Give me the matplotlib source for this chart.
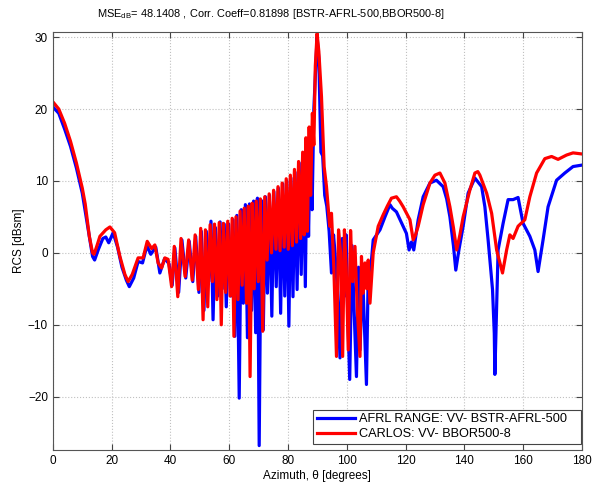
import numpy as np
import matplotlib.pyplot as plt

plt.rcParams["font.family"] = ["Liberation Sans", "DejaVu Sans"]
plt.rcParams["mathtext.fontset"] = "custom"
plt.rcParams["mathtext.rm"] = "Liberation Sans"
plt.rcParams["mathtext.it"] = "Liberation Sans:italic"

# AFRL range measurement (blue)
afrl_az = [0, 2, 4, 6, 8, 10, 12, 13.5, 14.2, 15.5, 17, 18, 19, 20.5, 22, 23.5, 25, 26,
           27.5, 29, 30.5, 32, 33.3, 35, 36.4, 38, 39.5,
           40.6, 41.5, 42.8, 43.9, 45.2, 46.4, 47.6, 48.6, 49.7, 50.5, 51.4, 52.2, 53.0,
           53.8, 54.5, 55.3, 56.1, 56.9, 57.6, 58.3, 59.0, 59.8, 60.6, 61.3, 61.9, 62.6,
           63.4, 64.1, 64.8, 65.5, 66.2, 66.9, 67.6, 68.3, 69.0, 69.6, 70.2, 70.9, 71.6,
           72.3, 73.0, 73.7, 74.5, 75.2, 76.0, 76.7, 77.5, 78.2, 78.9, 79.6, 80.3, 81.0,
           81.7, 82.4, 83.1, 83.8, 84.5, 85.2, 85.9, 86.5, 87.0, 87.6, 88.2, 88.8, 89.9,
           90.5, 91.2, 91.8, 92.5, 93.2, 94.0, 94.8, 95.5, 96.0, 96.8, 97.7, 98.5, 99.3,
           99.8, 100.3, 101, 101.8, 102.5, 103.3, 104.0, 104.5, 105.4, 106.0, 106.7,
           107.3, 108.2, 109, 111.3, 113, 114.7, 115.5, 116.9, 118.5, 120.3, 121.2, 122,
           122.8, 124.3, 126, 128.3, 130.5, 132.8, 134, 135.1, 136.3, 137.1, 138.2, 139.6,
           141.3, 143.6, 145.9, 147, 148.1, 149.6, 150.2, 150.4, 151, 151.5, 153.2, 154.9,
           156.6, 158.3, 160, 162.3, 164, 165.1, 166.8, 168.5, 171.4, 174.2, 177, 180]
afrl_rcs = [20.3, 19.4, 17.2, 14.8, 11.8, 8.3, 3.3, -0.5, -1.0, 0.5, 2.0, 2.2, 1.4, 2.8, 0.8,
            -2.0, -3.8, -4.7, -3.5, -1.2, -1.4, 1.0, -0.2, 0.8, -2.8, -0.8, -1.5,
            -4.5, 0.7, -5.5, 1.8, -3.5, 1.6, -4.0, 2.3, -5.5, 3.0, -8.0, 3.0, -4.0,
            4.4, -9.3, 3.5, -6.0, 4.3, -5.0, 4.0, -7.5, 4.0, -6.0, 4.6, -11.6, 5.2,
            -20.2, 6.0, -7.0, 6.7, -11.8, 6.8, -8.0, 7.2, -11.1, 7.6, -26.8, 7.3, -10.7,
            7.8, -5.6, 8.0, -8.8, 8.5, -4.7, 9.0, -8.4, 9.6, -6.0, 10.0, -10.2, 10.4,
            -6.1, 11.2, -5.1, 12.5, -3.0, 13.8, -4.7, 15.0, 2.3, 16.5, 6.0, 20.0, 30.0,
            27, 14, 13.5, 8, 6.5, 3,
            -2.8, 2.5, 0, -5, -14.6, 2.0, -6, 2.5, -8, -17.6, 1.0, -8, -17.2, -2, -13.5, -3,
            -10, -18.3, -3, -2, 1.8, 3.2, 5.0, 6.7, 6.2, 5.7, 4.3, 2.7, 0.4, 1.5, 0.4, 4.6,
            7.8, 9.7, 10.1, 9.2, 7.5, 5.0, 1.0, -2.4, 0.5, 3.7, 8.3, 10.4, 9.2, 6.4, 1.8,
            -5.1, -11.2, -16.9, -7.5, 0.4, 4.1, 7.4, 7.4, 7.7, 4.1, 2.3, 0.4, -2.6, 1.8, 6.4,
            10.1, 11.1, 12.0, 12.2]

# CARLOS simulation (red)
carlos_az = [0, 2, 4, 6, 8, 10, 11, 12.4, 13.5, 14, 15, 16, 18, 19.4, 21, 22.8, 24.5, 25.6,
             27, 29, 30.7, 32.1, 33.6, 34.7, 35.8, 37, 38.1, 39.2,
             40.4, 41.3, 42.5, 43.6, 45.0, 46.2, 47.4, 48.4, 49.5, 50.3, 51.1, 51.9, 52.7,
             53.5, 54.3, 55.0, 55.8, 56.6, 57.3, 58.0, 58.8, 59.5, 60.3, 61.0, 61.6, 62.3,
             63.0, 63.7, 64.4, 65.1, 65.9, 66.5, 67.1, 67.8, 68.5, 69.2, 69.9, 70.6, 71.4,
             72.1, 72.9, 73.6, 74.4, 75.1, 75.9, 76.6, 77.3, 78.0, 78.7, 79.4, 80.1, 80.8,
             81.5, 82.2, 82.9, 83.6, 84.3, 85.0, 85.5, 86.1, 86.6, 87.2, 87.7, 88.3, 88.8,
             89.3, 89.9, 90.5, 91.4, 92.3, 93.1, 94.2, 94.8,
             95.6, 96.5, 97.2, 97.9, 98.6, 99.2, 99.8, 100.5, 101.3, 102.0, 102.8, 103.6,
             104.5, 105.0, 105.6, 106.2, 106.8, 107.3, 107.9, 109, 110.7, 112.4, 113.8, 115.2,
             116.9, 118, 119.2, 121.5, 122.6, 123.4, 124.3, 126, 128.3, 130, 131.7, 133.4,
             135.1, 136.3, 137.4, 138.5, 139.6, 141.9, 143.6, 144.6, 145.3, 147.6, 149.3,
             151, 153, 154.4, 155.5, 156.6, 158.3, 160.6, 162.3, 164.6, 167.4, 169.7, 171.9,
             174.8, 177, 180]
carlos_rcs = [21.0, 20.0, 18.0, 15.5, 12.5, 9.0, 6.8, 2.3, 0.0, -0.2, 1.0, 2.3, 3.2, 3.6, 2.8,
              -0.5, -3.0, -4.0, -3.0, -0.7, -0.7, 1.6, 0.6, 1.1, -1.4, -2.1, -0.7, -0.9,
              -4.7, 0.9, -6.1, 2.0, -3.3, 1.8, -3.8, 2.5, -5.1, 3.4, -9.3, 3.2, -7.5,
              3.9, -4.0, 4.0, -6.5, 4.2, -10.0, 4.1, -5.5, 4.4, -6.0, 4.8, -11.6, 5.0,
              -6.5, 5.8, -4.5, 6.2, -7.0, 6.5, -17.2, 6.9, -5.0, 7.2, -4.0, 7.5, -10.9,
              7.8, -1.0, 8.2, 0.0, 8.7, 0.5, 9.2, 0.3, 9.7, 0.8, 10.3, 0.5, 10.8,
              1.0, 11.6, 1.5, 12.7, 2.0, 14.0, 2.5, 16.0, 3.0, 17.5, 8.0, 19.4, 15.0,
              26.0, 30.5, 28.0, 21.7, 12.0, 9.2, 3.7, 5.5,
              -2, -14.4, 3.2, 0, -14.4, 3.2, -2, -13.5, 3.1, -4, 0.9, -8,
              -14.4, -0.5, -5.6, -1.4, -5, -1.0, -7, 0, 3.7, 5.3, 6.5, 7.6,
              7.8, 7.2, 6.4, 4.6, 1.8, 2.5, 3.7, 6.7, 9.7, 10.8, 11.1, 9.7,
              6.4, 3.5, 0.4, 2.5, 5.0, 8.75, 11.1, 11.3, 10.8, 8.3, 5.5,
              0.4, -2.8, 0.4, 2.5, 2.0, 3.7, 4.6, 7.8, 11.1, 13.1, 13.4, 13.0,
              13.6, 13.9, 13.75]

fig = plt.figure(figsize=(6.08, 5.01), dpi=100)
ax = fig.add_axes([0.087, 0.102, 0.87, 0.834])

ax.plot(afrl_az, afrl_rcs, color="#0000ff", lw=2.3, label="AFRL RANGE: VV- BSTR-AFRL-500")
ax.plot(carlos_az, carlos_rcs, color="#ff0000", lw=2.3, label="CARLOS: VV- BBOR500-8")

ax.set_xlim(0, 180)
ax.set_ylim(-27.4, 30.7)
ax.set_xticks(np.arange(0, 181, 20))
ax.set_yticks([-20, -10, 0, 10, 20, 30])
ax.grid(True, color="#c0c0c0", linestyle=":", linewidth=0.8)
ax.tick_params(direction="in", length=4, labelsize=8.5, top=True, right=True,
               color="#444444")
for s in ax.spines.values():
    s.set_color("#555555")
    s.set_linewidth(0.8)

fig.text(271 / 608, 1 - 14 / 501,
         "MSE$_{\\mathrm{dB}}$= 48.1408 , Corr. Coeff=0.81898 [BSTR-AFRL-500,BBOR500-8]",
         fontsize=7.9, ha="center", va="center")
ax.set_xlabel("Azimuth, \u03b8 [degrees]", fontsize=8.5, labelpad=2)
ax.set_ylabel("RCS [dBsm]", fontsize=8.5, labelpad=2)

leg = ax.legend(loc="lower left", bbox_to_anchor=(0.4915, 0.0144, 0.5066, 0.05),
                mode="expand", fontsize=9.2, fancybox=False, framealpha=1,
                edgecolor="#444444", handlelength=3.0, handletextpad=0.3,
                borderaxespad=0, borderpad=0.3, labelspacing=0.2)
leg.get_frame().set_linewidth(0.8)

fig.savefig("out.png", dpi=100, facecolor="white")
